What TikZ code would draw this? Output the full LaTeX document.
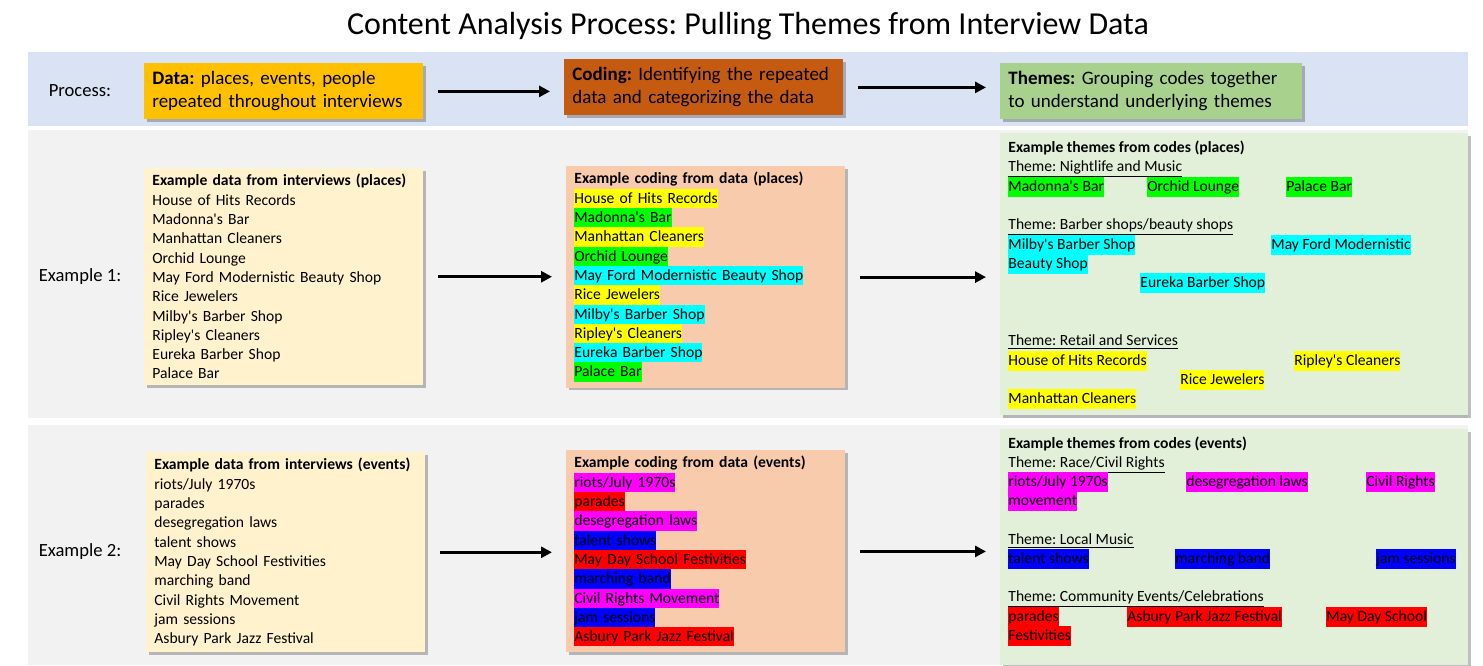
\documentclass[tikz,border=0pt]{standalone}
\usepackage{fontspec}
\setmainfont{Carlito}[Ligatures=TeXOff]
\usetikzlibrary{arrows.meta,shadows}

\definecolor{bandblue}{HTML}{DAE3F3}
\definecolor{bandgray}{HTML}{F2F2F2}
\definecolor{themebg}{HTML}{E2F0D9}
\definecolor{datafill}{HTML}{FFC000}
\definecolor{codefill}{HTML}{C55A11}
\definecolor{themefill}{HTML}{A9D18E}
\definecolor{datalight}{HTML}{FFF2CC}
\definecolor{codelight}{HTML}{F8CBAD}
\definecolor{hlyellow}{HTML}{FFFF00}
\definecolor{hlgreen}{HTML}{00FF00}
\definecolor{hlcyan}{HTML}{00FFFF}
\definecolor{hlmagenta}{HTML}{FF00FF}
\definecolor{hlred}{HTML}{FF0000}
\definecolor{hlblue}{HTML}{0000FF}

\newcommand{\listfont}{\fontsize{7.8}{9.65}\selectfont}
\newcommand{\hlstrut}{\rule[-2.4pt]{0pt}{9.65pt}}
\newcommand{\hlt}[2]{{\setlength{\fboxsep}{0pt}\colorbox{#1}{\hlstrut#2}}}

\begin{document}
\frenchspacing
\begin{tikzpicture}[x=0.5pt, y=-0.5pt,
	shade/.style = {drop shadow={shadow xshift=1.2pt, shadow yshift=-1.2pt, fill=black, opacity=.25}},
	procbox/.style = {shade, anchor=north west, align=left, text width=131.5pt, inner xsep=4pt,
		minimum height=28pt, font=\fontsize{9.5}{11.5}\selectfont},
	listbox/.style = {shade, anchor=north west, align=left, text width=131.5pt, inner xsep=4pt,
		inner ysep=3pt, font=\listfont},
	area/.style = {shade, fill=themebg, anchor=north west, minimum width=234pt},
	rowlabel/.style = {font=\fontsize{9.3}{11}\selectfont},
	hl/.style = {fill=#1, inner sep=0pt, anchor=north west, font=\listfont, execute at begin node=\hlstrut},
	head/.style = {anchor=base west, inner sep=0pt, font=\listfont},
	arr/.style = {-{Triangle[length=5.5pt, width=5.5pt]}, line width=1.5pt, shorten <=7pt, shorten >=7pt}]
	%\draw[help lines] (0,0) grid (1483,665);
	\useasboundingbox (0,0) rectangle (1483,665);

	% background bands
	\fill[bandblue] (28,52) rectangle (1468,126);
	\fill[bandgray] (28,130) rectangle (1468,418);
	\fill[bandgray] (28,425) rectangle (1468,665);

	\node (title) at (748,26) {\fontsize{16}{19}\selectfont Content Analysis Process: Pulling Themes from Interview Data};

	% process row
	\node (proclabel) [rowlabel] at (80,91) {Process:};
	\node (pdata) [procbox, fill=datafill] at (144,63)
		{\textbf{Data:} places, events, people\\
		 repeated throughout interviews};
	\node (pcoding) [procbox, fill=codefill] at (564,59)
		{\textbf{Coding:} Identifying the repeated\\
		 data and categorizing the data};
	\node (pthemes) [procbox, fill=themefill, text width=143pt] at (1000,63)
		{\textbf{Themes:} Grouping codes together\\
		 to understand underlying themes};

	% example 1: places
	\node (alabel) [rowlabel] at (80,277) {Example 1:};
	\node (adata) [listbox, fill=datalight] at (144,168)
		{\textbf{Example data from interviews (places)}\\
		House of Hits Records\\
		Madonna's Bar\\
		Manhattan Cleaners\\
		Orchid Lounge\\
		May Ford Modernistic Beauty Shop\\
		Rice Jewelers\\
		Milby's Barber Shop\\
		Ripley's Cleaners\\
		Eureka Barber Shop\\
		Palace Bar};
	\node (acoding) [listbox, fill=codelight] at (566,166)
		{\textbf{Example coding from data (places)}\\
		\hlt{hlyellow}{House of Hits Records}\\
		\hlt{hlgreen}{Madonna's Bar}\\
		\hlt{hlyellow}{Manhattan Cleaners}\\
		\hlt{hlgreen}{Orchid Lounge}\\
		\hlt{hlcyan}{May Ford Modernistic Beauty Shop}\\
		\hlt{hlyellow}{Rice Jewelers}\\
		\hlt{hlcyan}{Milby's Barber Shop}\\
		\hlt{hlyellow}{Ripley's Cleaners}\\
		\hlt{hlcyan}{Eureka Barber Shop}\\
		\hlt{hlgreen}{Palace Bar}};
	\node (athemes) [area, minimum height=141pt] at (1000,133) {};

	\node (ahead) [head] at (1008,152) {\textbf{Example themes from codes (places)}};
	\node (aone) [head] at (1008,171) {\underline{Theme: Nightlife and Music}};
	\node (a1) [hl=hlgreen] at (1008,177) {Madonna's Bar};
	\node (a2) [hl=hlgreen] at (1147,177) {Orchid Lounge};
	\node (a3) [hl=hlgreen] at (1286,177) {Palace Bar};
	\node (atwo) [head] at (1008,229) {\underline{Theme: Barber shops/beauty shops}};
	\node (a4) [hl=hlcyan] at (1008,235) {Milby's Barber Shop};
	\node (a5) [hl=hlcyan] at (1271,235) {May Ford Modernistic\ };
	\node (a6) [hl=hlcyan] at (1008,254) {Beauty Shop};
	\node (a7) [hl=hlcyan] at (1140,273) {Eureka Barber Shop};
	\node (athree) [head] at (1008,345) {\underline{Theme: Retail and Services}};
	\node (a8) [hl=hlyellow] at (1008,351) {House of Hits Records};
	\node (a9) [hl=hlyellow] at (1294,351) {Ripley's Cleaners};
	\node (a10) [hl=hlyellow] at (1180,370) {Rice Jewelers};
	\node (a11) [hl=hlyellow] at (1008,389) {Manhattan Cleaners};

	% example 2: events
	\node (blabel) [rowlabel] at (80,552) {Example 2:};
	\node (bdata) [listbox, fill=datalight] at (146,452)
		{\textbf{Example data from interviews (events)}\\
		riots/July 1970s\\
		parades\\
		desegregation laws\\
		talent shows\\
		May Day School Festivities\\
		marching band\\
		Civil Rights Movement\\
		jam sessions\\
		Asbury Park Jazz Festival};
	\node (bcoding) [listbox, fill=codelight] at (566,450)
		{\textbf{Example coding from data (events)}\\
		\hlt{hlmagenta}{riots/July 1970s}\\
		\hlt{hlred}{parades}\\
		\hlt{hlmagenta}{desegregation laws}\\
		\hlt{hlblue}{talent shows}\\
		\hlt{hlred}{May Day School Festivities}\\
		\hlt{hlblue}{marching band}\\
		\hlt{hlmagenta}{Civil Rights Movement}\\
		\hlt{hlblue}{jam sessions}\\
		\hlt{hlred}{Asbury Park Jazz Festival}};
	\node (bthemes) [area, minimum height=118pt] at (1000,429) {};

	\node (bhead) [head] at (1008,448) {\textbf{Example themes from codes (events)}};
	\node (bone) [head] at (1008,467) {\underline{Theme: Race/Civil Rights}};
	\node (b1) [hl=hlmagenta] at (1008,472) {riots/July 1970s};
	\node (b2) [hl=hlmagenta] at (1186,472) {desegregation laws};
	\node (b3) [hl=hlmagenta] at (1366,472) {Civil Rights\ };
	\node (b4) [hl=hlmagenta] at (1008,491) {movement};
	\node (btwo) [head] at (1008,544) {\underline{Theme: Local Music}};
	\node (b5) [hl=hlblue] at (1008,549) {talent shows};
	\node (b6) [hl=hlblue] at (1175,549) {marching band};
	\node (b7) [hl=hlblue] at (1376,549) {jam sessions};
	\node (bthree) [head] at (1008,601) {\underline{Theme: Community Events/Celebrations}};
	\node (b8) [hl=hlred] at (1008,607) {parades};
	\node (b9) [hl=hlred] at (1127,607) {Asbury Park Jazz Festival};
	\node (b10) [hl=hlred] at (1326,607) {May Day School\ };
	\node (b11) [hl=hlred] at (1008,626) {Festivities};

	\begin{scope}[arr]
		\draw (pdata.east) -- (pdata.east -| pcoding.west);
		\draw (pcoding.east) -- (pcoding.east -| pthemes.west);
		\draw (adata.east) -- (adata.east -| acoding.west);
		\draw (acoding.east) -- (acoding.east -| athemes.west);
		\draw (bdata.east) -- (bdata.east -| bcoding.west);
		\draw (bcoding.east) -- (bcoding.east -| bthemes.west);
	\end{scope}
\end{tikzpicture}
\end{document}
